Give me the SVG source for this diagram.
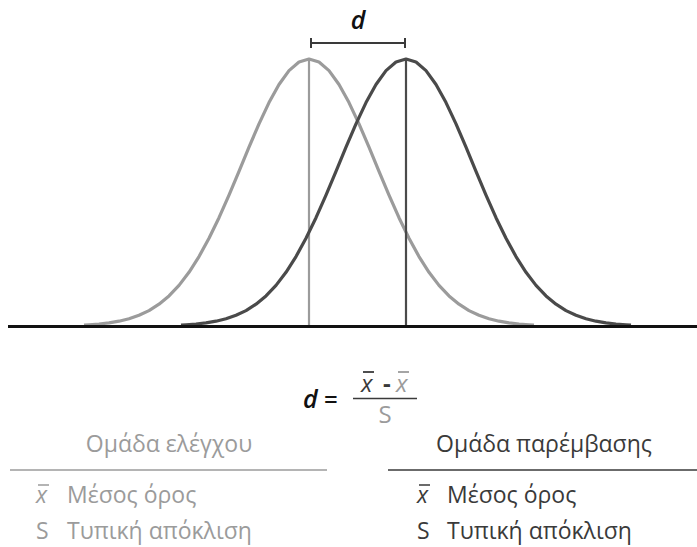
<svg xmlns="http://www.w3.org/2000/svg" width="697" height="547" viewBox="0 0 697 547">
<style>
text{font-family:"Open Sans","Noto Sans","DejaVu Sans",sans-serif}
.light{fill:#9b9b9b}
.dark{fill:#3a3a3a}
.curve{fill:none;stroke-width:3.2;stroke-linejoin:round}
.lbl{font-size:23px}
.sym{font-size:23px}
</style>
<defs>
<path id="bell" d="M-225,-0.9 L-220,-1.2 L-210,-2 L-200,-3.1 L-190,-4.8 L-180,-7.2 L-170,-10.7 L-160,-15.4 L-150,-21.8 L-140,-30.1 L-130,-40.6 L-120,-53.7 L-110,-69.4 L-100,-87.7 L-90,-108.3 L-80,-130.9 L-70,-154.7 L-60,-178.8 L-50,-202.1 L-40,-223.4 L-30,-241.5 L-20,-255.4 L-10,-264 L0,-267 L10,-264 L20,-255.4 L30,-241.5 L40,-223.4 L50,-202.1 L60,-178.8 L70,-154.7 L80,-130.9 L90,-108.3 L100,-87.7 L110,-69.4 L120,-53.7 L130,-40.6 L140,-30.1 L150,-21.8 L160,-15.4 L170,-10.7 L180,-7.2 L190,-4.8 L200,-3.1 L210,-2 L220,-1.2 L225,-0.9"/>
</defs>
<g id="control-curve">
<use href="#bell" transform="translate(309,326)" class="curve" stroke="#9b9b9b"/>
<line x1="309" y1="60" x2="309" y2="326" stroke="#9b9b9b" stroke-width="2.2"/>
</g>
<g id="intervention-curve">
<use href="#bell" transform="translate(406,326)" class="curve" stroke="#4a4a4a"/>
<line x1="406" y1="60" x2="406" y2="326" stroke="#4a4a4a" stroke-width="2.2"/>
</g>
<g id="axis">
<line x1="8" y1="326.5" x2="697" y2="326.5" stroke="#111" stroke-width="3"/>
</g>
<g id="distance">
<path d="M311,43 H405 M311,38 V48 M405,38 V48" stroke="#3a3a3a" stroke-width="2" fill="none"/>
<text x="358" y="29" text-anchor="middle" font-size="25" font-weight="600" font-style="italic" fill="#111">d</text>
</g>
<g id="formula">
<text x="303" y="408" font-size="25" font-weight="600" font-style="italic" fill="#111">d</text>
<text x="324" y="408" font-size="24" font-weight="600" fill="#111">=</text>
<text x="361" y="392" font-size="24" font-style="italic" class="dark">x</text>
<line x1="363" y1="372" x2="374" y2="372" stroke="#3a3a3a" stroke-width="1.8"/>
<text x="383" y="392" font-size="24" class="dark" font-weight="bold">-</text>
<text x="396" y="392" font-size="24" font-style="italic" class="light">x</text>
<line x1="398" y1="372" x2="409" y2="372" stroke="#9b9b9b" stroke-width="1.8"/>
<line x1="353" y1="398.5" x2="417" y2="398.5" stroke="#3a3a3a" stroke-width="1.6"/>
<text x="385" y="423" text-anchor="middle" font-size="24" class="light">S</text>
</g>
<g id="legend-control">
<text x="169" y="452" text-anchor="middle" class="lbl light">Ομάδα ελέγχου</text>
<line x1="10" y1="470" x2="327" y2="470" stroke="#9b9b9b" stroke-width="1.5"/>
<text x="36" y="503" class="sym light" font-style="italic">x</text>
<line x1="38" y1="485" x2="49" y2="485" stroke="#9b9b9b" stroke-width="1.5"/>
<text x="67" y="503" class="lbl light">Μέσος όρος</text>
<text x="36" y="539" class="sym light">S</text>
<text x="67" y="539" class="lbl light">Τυπική απόκλιση</text>
</g>
<g id="legend-intervention">
<text x="544" y="452" text-anchor="middle" class="lbl dark">Ομάδα παρέμβασης</text>
<line x1="388" y1="470" x2="697" y2="470" stroke="#3a3a3a" stroke-width="1.5"/>
<text x="417" y="503" class="sym dark" font-style="italic">x</text>
<line x1="419" y1="485" x2="430" y2="485" stroke="#3a3a3a" stroke-width="1.5"/>
<text x="447" y="503" class="lbl dark">Μέσος όρος</text>
<text x="417" y="539" class="sym dark">S</text>
<text x="447" y="539" class="lbl dark">Τυπική απόκλιση</text>
</g>
</svg>
